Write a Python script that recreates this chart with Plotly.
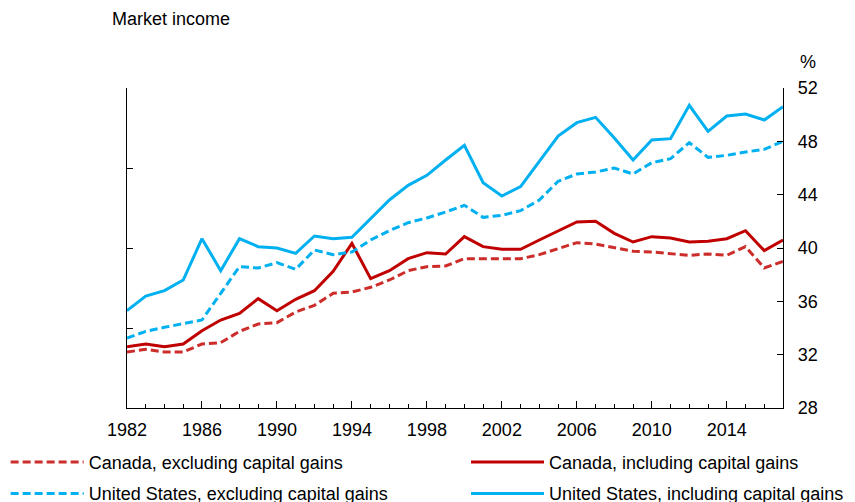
import plotly.graph_objects as go

years = list(range(1982, 2018))

canada_excl = [32.2, 32.4, 32.2, 32.2, 32.8, 32.9, 33.75, 34.3, 34.4, 35.2, 35.7, 36.6,
               36.7, 37.05, 37.6, 38.3, 38.6, 38.65, 39.2, 39.2, 39.2, 39.2, 39.5, 39.95,
               40.4, 40.3, 40.05, 39.75, 39.7, 39.6, 39.45, 39.55, 39.45, 40.1, 38.5, 39.0]
canada_incl = [32.6, 32.8, 32.6, 32.8, 33.8, 34.6, 35.1, 36.2, 35.3, 36.15, 36.8, 38.25,
               40.35, 37.7, 38.3, 39.2, 39.65, 39.55, 40.85, 40.1, 39.9, 39.9, 40.6, 41.3,
               41.95, 42.0, 41.1, 40.45, 40.85, 40.75, 40.45, 40.5, 40.7, 41.3, 39.8, 40.6]
us_excl = [33.25, 33.75, 34.05, 34.3, 34.6, 36.6, 38.6, 38.5, 38.9, 38.4, 39.85, 39.5,
           39.7, 40.6, 41.3, 41.9, 42.25, 42.7, 43.2, 42.3, 42.45, 42.8, 43.6, 45.0,
           45.55, 45.7, 46.0, 45.55, 46.4, 46.7, 47.9, 46.8, 46.95, 47.2, 47.4, 48.0]
us_incl = [35.3, 36.4, 36.8, 37.6, 40.7, 38.3, 40.7, 40.1, 40.0, 39.6, 40.9, 40.7,
           40.8, 42.2, 43.6, 44.7, 45.45, 46.6, 47.7, 44.9, 43.9, 44.6, 46.5, 48.4,
           49.4, 49.8, 48.25, 46.6, 48.1, 48.2, 50.7, 48.75, 49.9, 50.05, 49.6, 50.6]

names = ["Canada, excluding capital gains", "Canada, including capital gains",
         "United States, excluding capital gains", "United States, including capital gains"]
x_tick_labels = ["1982", "1986", "1990", "1994", "1998", "2002", "2006", "2010", "2014"]

RED_DASH = "#CC2D2A"
RED = "#C00000"
BLUE = "#00B0F0"
FONT = "Liberation Sans, Arial, sans-serif"
FS = 18

fig = go.Figure()
series = [
    (canada_excl, names[0], RED_DASH, "8px,4px", "legend", "g1"),
    (canada_incl, names[1], RED, "solid", "legend2", "g2"),
    (us_excl, names[2], BLUE, "8px,4px", "legend", "g3"),
    (us_incl, names[3], BLUE, "solid", "legend2", "g4"),
]
for vals, nm, col, dash, leg, grp in series:
    fig.add_trace(go.Scatter(x=years, y=vals, name=nm, mode="lines",
                             line=dict(color=col, width=3, dash=dash),
                             yaxis="y", legend=leg, legendgroup=grp))
# invisible trace to anchor the left axis
fig.add_trace(go.Scatter(x=[years[0]], y=[canada_excl[0]], yaxis="y2", mode="lines",
                         showlegend=False, hoverinfo="skip", line=dict(width=0)))

leg_common = dict(orientation="v", yanchor="top", y=-0.112, xanchor="left",
                  itemwidth=73, font=dict(size=FS, family=FONT), tracegroupgap=5,
                  bgcolor="rgba(0,0,0,0)")

fig.update_layout(
    width=855, height=502,
    margin=dict(l=119, r=80, t=80, b=102, autoexpand=False),
    paper_bgcolor="white", plot_bgcolor="white",
    font=dict(family=FONT, size=FS, color="#000000"),
    showlegend=True,
    legend=dict(x=-0.185, **leg_common),
    legend2=dict(x=0.5168, **leg_common),
    xaxis=dict(range=[1982, 2017], tickmode="array",
               tickvals=[int(t) for t in x_tick_labels], ticktext=x_tick_labels,
               ticks="inside", ticklen=7, tickcolor="#000", tickwidth=1,
               minor=dict(dtick=1, tick0=1982, ticks="inside", ticklen=4,
                          tickcolor="#000", showgrid=False),
               showline=True, linecolor="#000", linewidth=1.3,
               showgrid=False, zeroline=False, tickfont=dict(size=FS),
               ticklabelstandoff=5),
    yaxis=dict(side="right", range=[28, 52], dtick=4, tick0=28,
               ticks="inside", ticklen=6, tickcolor="#000",
               showline=True, linecolor="#000", linewidth=1.3,
               showgrid=False, zeroline=False, tickfont=dict(size=FS),
               ticklabelstandoff=10),
    yaxis2=dict(side="left", overlaying="y", range=[28, 52], dtick=6, tick0=28,
                ticks="inside", ticklen=6, tickcolor="#000",
                showline=True, linecolor="#000", linewidth=1.3,
                showticklabels=False, showgrid=False, zeroline=False),
    annotations=[
        dict(text="Market income", xref="paper", yref="paper", x=-0.026, y=1.0,
             yshift=69, xanchor="left", yanchor="middle", showarrow=False,
             font=dict(size=FS)),
        dict(text="%", xref="paper", yref="paper", x=1.0, y=1.0, xshift=15, yshift=26,
             xanchor="left", yanchor="middle", showarrow=False, font=dict(size=FS)),
    ],
)

fig.write_html("out.html")
